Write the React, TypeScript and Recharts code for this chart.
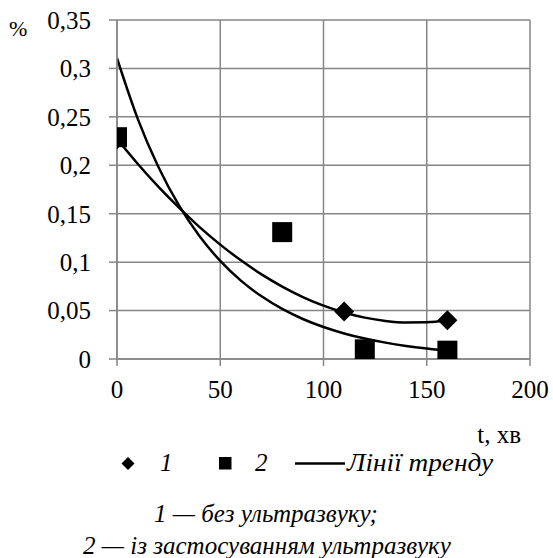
import React from 'react';
import { ComposedChart, Line, Scatter, XAxis, YAxis, CartesianGrid } from 'recharts';

// Measured points
const series1X = [0, 110, 160];
const series1Y = [0.227, 0.049, 0.04];
const series2X = [0, 80, 120, 160];
const series2Y = [0.229, 0.131, 0.01, 0.0086];

// Trend lines
const trendX = [0, 10, 20, 30, 40, 50, 60, 70, 80, 90, 100, 110, 120, 130, 140, 150, 160];
const trend1Y = [0.227, 0.2016, 0.1779, 0.1562, 0.1362, 0.1181, 0.1019, 0.0874, 0.0748, 0.064, 0.0551, 0.048, 0.0427, 0.0393, 0.0377, 0.0379, 0.04];
const trend2Y = [0.3105, 0.2482, 0.1984, 0.1585, 0.1267, 0.1013, 0.0809, 0.0647, 0.0517, 0.0413, 0.033, 0.0264, 0.0211, 0.0169, 0.0135, 0.0108, 0.0086];

const xTicks = [0, 50, 100, 150, 200];
const yTicks = [0, 0.05, 0.1, 0.15, 0.2, 0.25, 0.3, 0.35];

const legendLabels = ['1', '2', 'Лінії тренду'];
const captionLines = ['1 — без ультразвуку;', '2 — із застосуванням ультразвуку'];
const xAxisTitle = 't, хв';
const yAxisTitle = '%';

const pts1 = series1X.map((x, i) => ({ x, y: series1Y[i] }));
const pts2 = series2X.map((x, i) => ({ x, y: series2Y[i] }));
const tr1 = trendX.map((x, i) => ({ x, y: trend1Y[i] }));
const tr2 = trendX.map((x, i) => ({ x, y: trend2Y[i] }));

const FONT = '"Times New Roman", "Liberation Serif", serif';
const GRID = '#868686';
const FS = 25;

const Diamond = (props: any) => {
  const { cx, cy } = props;
  const r = 10;
  return <polygon points={`${cx},${cy - r} ${cx + r},${cy} ${cx},${cy + r} ${cx - r},${cy}`} fill="#000" />;
};
const Square = (props: any) => {
  const { cx, cy } = props;
  const s = 20;
  return <rect x={cx - s / 2} y={cy - s / 2} width={s} height={s} fill="#000" />;
};

const fmt = (v: number) => String(+v.toFixed(2)).replace('.', ',');

const txt: React.CSSProperties = { fontFamily: FONT, fontSize: FS };
const itxt: React.CSSProperties = { fontFamily: FONT, fontSize: FS, fontStyle: 'italic' };

export default function App() {
  return (
    <div style={{ position: 'absolute', left: 0, top: 0, width: 553, height: 558, background: '#fff', fontFamily: FONT }}>
      <ComposedChart width={553} height={420} margin={{ top: 20, right: 23, bottom: 20, left: 0 }} style={{ fontFamily: FONT }}>
        <CartesianGrid stroke={GRID} strokeWidth={1.5} />
        <XAxis
          dataKey="x"
          type="number"
          domain={[0, 200]}
          ticks={xTicks}
          height={41}
          tickSize={7}
          tickMargin={14}
          stroke={GRID}
          strokeWidth={1.5}
          tick={{ fill: '#000', fontSize: FS, style: txt }}
          allowDataOverflow
        />
        <YAxis
          dataKey="y"
          type="number"
          domain={[0, 0.35]}
          ticks={yTicks}
          width={117}
          tickSize={8}
          tickMargin={18}
          stroke={GRID}
          strokeWidth={1.5}
          tickFormatter={fmt}
          tick={{ fill: '#000', fontSize: FS, style: txt }}
          allowDataOverflow
        />
        <Line data={tr1} dataKey="y" type="monotone" stroke="#000" strokeWidth={2.5} dot={false} isAnimationActive={false} />
        <Line data={tr2} dataKey="y" type="monotone" stroke="#000" strokeWidth={2.5} dot={false} isAnimationActive={false} />
        <Scatter data={pts1} dataKey="y" shape={Diamond} isAnimationActive={false} />
        <Scatter data={pts2} dataKey="y" shape={Square} isAnimationActive={false} />
      </ComposedChart>
      <svg width={553} height={558} style={{ position: 'absolute', left: 0, top: 0, pointerEvents: 'none' }}>
        <text x={9} y={36} style={{ fontFamily: FONT, fontSize: 22 }} fill="#000">{yAxisTitle}</text>
        <text x={521} y={443} textAnchor="end" style={txt} fill="#000">{xAxisTitle}</text>
        <polygon points="128,457 134.5,463.5 128,470 121.5,463.5" fill="#000" />
        <text x={160} y={471} style={itxt} fill="#000">{legendLabels[0]}</text>
        <rect x={219} y={457} width={12.5} height={12.5} fill="#000" />
        <text x={255} y={471} style={itxt} fill="#000">{legendLabels[1]}</text>
        <line x1={295} y1={463.5} x2={345} y2={463.5} stroke="#000" strokeWidth={2.5} />
        <text x={347} y={471} style={itxt} fill="#000" textLength={146} lengthAdjust="spacingAndGlyphs">{legendLabels[2]}</text>
        <text x={266} y={522} textAnchor="middle" style={itxt} fill="#000">{captionLines[0]}</text>
        <text x={267} y={554} textAnchor="middle" style={itxt} fill="#000">{captionLines[1]}</text>
      </svg>
    </div>
  );
}
